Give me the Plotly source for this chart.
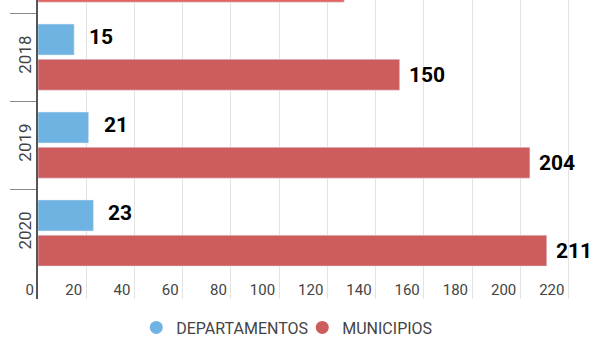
import plotly.graph_objects as go

# Yearly counts by territorial level
years = ["2017", "2018", "2019", "2020"]
departamentos = [None, 15, 21, 23]
municipios = [127, 150, 204, 211]

series_names = ["DEPARTAMENTOS", "MUNICIPIOS"]
blue = "#6FB3E2"
red = "#CD5C5C"
red_bars = ["#E36666", red, red, red]

label_font = dict(family="Roboto, sans-serif", size=21, color="#000000", weight="bold")
tick_font_color = "#444444"

fig = go.Figure()

fig.add_trace(go.Bar(
    y=years, x=departamentos, orientation="h", name=series_names[0],
    marker=dict(color=blue), showlegend=False, hoverinfo="x+name",
))
fig.add_trace(go.Bar(
    y=years, x=municipios, orientation="h", name=series_names[1],
    marker=dict(color=red_bars), showlegend=False, hoverinfo="x+name",
))

# Legend entries drawn as round markers
for name, col in zip(series_names, [blue, red]):
    fig.add_trace(go.Scatter(
        x=[None], y=[None], mode="markers", name=name,
        marker=dict(symbol="circle", size=13, color=col),
    ))

# Value labels just past the end of each bar; the year labels look numeric,
# so annotations are placed by category index on the y axis
annotations = []
for values, shift in [(departamentos, 20), (municipios, -18)]:
    for idx, v in enumerate(values):
        if v is None:
            continue
        annotations.append(dict(
            x=v, y=idx, xref="x", yref="y", text=str(v), showarrow=False,
            xanchor="center", yanchor="middle", xshift=27, yshift=shift,
            font=label_font,
        ))

fig.update_layout(
    width=595, height=338,
    margin=dict(l=38, r=0, t=0, b=39),
    paper_bgcolor="white", plot_bgcolor="white",
    barmode="group", bargap=0.2, bargroupgap=0.12,
    annotations=annotations,
    font=dict(family="Roboto, sans-serif", color=tick_font_color),
    legend=dict(
        orientation="h", xref="container", yref="container",
        x=0.508, xanchor="center", y=0.031, yanchor="middle",
        font=dict(family="Roboto, sans-serif", size=16, color=tick_font_color),
        itemwidth=30, entrywidth=121, entrywidthmode="pixels",
    ),
    hovermode="closest",
)

fig.update_xaxes(
    range=[0, 231], dtick=20, tick0=0,
    showgrid=True, gridcolor="#E3E3E3", gridwidth=1,
    zeroline=False, showline=False, ticks="",
    ticklabelposition="inside left", ticklabeloverflow="allow",
    ticklabelshift=-4, ticklabelstandoff=-5,
    tickfont=dict(family="Roboto, sans-serif", size=15, color=tick_font_color),
    fixedrange=True,
)

fig.update_yaxes(
    type="category", categoryorder="array", categoryarray=years,
    range=[3.75, 0.35],
    showgrid=False, zeroline=False,
    showline=True, linecolor="#555555", linewidth=2,
    ticks="outside", tickson="boundaries", ticklen=26,
    tickcolor="#8A8A8A", tickwidth=1,
    tickangle=-90, ticklabelstandoff=-2,
    tickfont=dict(family="Roboto, sans-serif", size=17, color=tick_font_color),
    fixedrange=True,
)

fig.write_html("out.html", config={"displayModeBar": False})
